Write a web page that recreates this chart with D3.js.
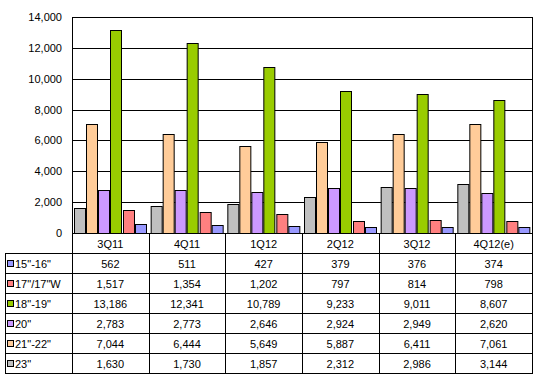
<!DOCTYPE html>
<html><head><meta charset="utf-8">
<script src="https://cdn.jsdelivr.net/npm/d3@7"></script>
<style>
body{margin:0;background:#fff;}
svg text{font-family:"Liberation Sans",Arial,sans-serif;font-size:11px;fill:#000;}
</style></head><body>
<svg id="c" width="538" height="381"></svg>
<script>
const categories = ["3Q11","4Q11","1Q12","2Q12","3Q12","4Q12(e)"];
const seriesNames = ["15\"-16\"","17\"/17\"W","18\"-19\"","20\"","21\"-22\"","23\""];
const seriesColors = ["#9999FF","#FF8080","#99CC00","#CC99FF","#FFCC99","#C0C0C0"];
const s15_16 = [562,511,427,379,376,374];
const s17 = [1517,1354,1202,797,814,798];
const s18_19 = [13186,12341,10789,9233,9011,8607];
const s20 = [2783,2773,2646,2924,2949,2620];
const s21_22 = [7044,6444,5649,5887,6411,7061];
const s23 = [1630,1730,1857,2312,2986,3144];
const yTicks = [0,2000,4000,6000,8000,10000,12000,14000];

const seriesValues = [s15_16,s17,s18_19,s20,s21_22,s23];
const barOrder = [5,4,3,2,1,0]; // 23" first ... 15"-16" last

const svg = d3.select("#c");
const L=72, R=532, T=17, B=233, rowH=20, tableLeft=5;
const x0 = d3.scaleBand().domain(categories).range([L,R]).padding(0);
const x1 = d3.scaleBand().domain(barOrder).range([1.5, x0.bandwidth()-1.5]).padding(0);
const y = d3.scaleLinear().domain([0,14000]).range([B,T]);

// gridlines
svg.append("g").selectAll("line").data(yTicks).join("line")
  .attr("x1",L).attr("x2",R).attr("y1",d=>Math.round(y(d))+0.5).attr("y2",d=>Math.round(y(d))+0.5)
  .attr("stroke","#000").attr("stroke-width",1);
// plot border
svg.append("rect").attr("x",L+0.5).attr("y",Math.round(y(14000))+0.5)
  .attr("width",R-L).attr("height",Math.round(y(0))-Math.round(y(14000)))
  .attr("fill","none").attr("stroke","#000");

// y labels
const yAxis = d3.axisLeft(y).tickValues(yTicks).tickFormat(d3.format(",")).tickSize(0).tickPadding(10);
const ya = svg.append("g").attr("transform",`translate(${L},0)`).call(yAxis);
ya.select(".domain").remove();
ya.selectAll("text").style("font-family","'Liberation Sans',Arial,sans-serif").style("font-size","11px").attr("fill","#000");

// bars
const groups = svg.append("g").selectAll("g").data(categories).join("g")
  .attr("transform",d=>`translate(${x0(d)},0)`);
groups.selectAll("rect").data((c,ci)=>barOrder.map(si=>({si,v:seriesValues[si][ci]}))).join("rect")
  .attr("x",d=>Math.round(x1(d.si))+0.5)
  .attr("width",Math.round(x1.bandwidth())-1)
  .attr("y",d=>Math.round(y(d.v))+0.5)
  .attr("height",d=>Math.round(y(0))-Math.round(y(d.v)))
  .attr("fill",d=>seriesColors[d.si]).attr("stroke","#000").attr("stroke-width",1);

// table
const tb = svg.append("g");
const nRows = seriesNames.length;
const tBottom = B + rowH*(nRows+1);
// horizontal lines
for(let r=1;r<=nRows+1;r++){
  const yy = B + r*rowH + 0.5;
  tb.append("line").attr("x1",tableLeft).attr("x2",R+1).attr("y1",yy).attr("y2",yy).attr("stroke","#000");
}
// vertical lines
const vx = [L].concat(categories.map(c=>x0(c)+x0.bandwidth()));
vx.forEach(xx=>{
  tb.append("line").attr("x1",Math.round(xx)+0.5).attr("x2",Math.round(xx)+0.5).attr("y1",B).attr("y2",tBottom+0.5).attr("stroke","#000");
});
tb.append("line").attr("x1",tableLeft+0.5).attr("x2",tableLeft+0.5).attr("y1",B+rowH).attr("y2",tBottom+0.5).attr("stroke","#000");

// header labels
tb.selectAll("text.cat").data(categories).join("text").attr("class","cat")
  .attr("x",d=>x0(d)+x0.bandwidth()/2).attr("y",B+rowH/2+0.5)
  .attr("text-anchor","middle").attr("dominant-baseline","central").text(d=>d);

// rows
seriesNames.forEach((name,si)=>{
  const cy = B + (si+1)*rowH + rowH/2 + 0.5;
  tb.append("rect").attr("x",7.5).attr("y",Math.round(cy-3)-0.5).attr("width",6).attr("height",6)
    .attr("fill",seriesColors[si]).attr("stroke","#000").attr("stroke-width",1);
  tb.append("text").attr("x",15).attr("y",cy).attr("dominant-baseline","central").text(name);
  tb.selectAll(null).data(categories).join("text")
    .attr("x",d=>x0(d)+x0.bandwidth()/2).attr("y",cy)
    .attr("text-anchor","middle").attr("dominant-baseline","central")
    .text((d,ci)=>d3.format(",")(seriesValues[si][ci]));
});
</script>
</body></html>
